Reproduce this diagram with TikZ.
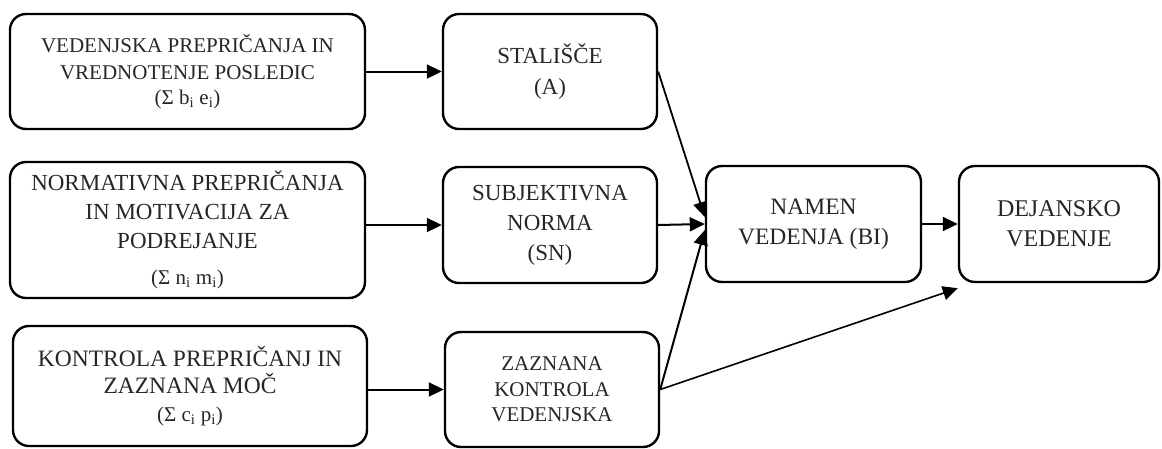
\documentclass[tikz,border=0pt]{standalone}
\usepackage{fontspec}
\setmainfont{Liberation Serif}
\usetikzlibrary{arrows.meta}
\newcommand{\sumline}[2]{{\fontsize{21}{22}\selectfont (Σ #1\textsubscript{i} #2\textsubscript{i})}}
\begin{document}
\begin{tikzpicture}[x=1pt,y=-1pt,
  box/.style={draw=black, line width=2.4pt, rounded corners=16pt, align=center,
    inner sep=0pt, text=black!85},
  arr/.style={-{Triangle[length=15pt,width=14pt]}, line width=2pt},
]
\useasboundingbox (0,0) rectangle (1162,448);

% beliefs column
\node[box, minimum width=355pt, minimum height=115pt, font=\fontsize{21}{27}\selectfont]
  (vb) at (187.5,71.5)
  {VEDENJSKA PREPRIČANJA IN\\VREDNOTENJE POSLEDIC\\[-2pt]\sumline{b}{e}};
\node[box, minimum width=355pt, minimum height=136pt, font=\fontsize{23}{29}\selectfont]
  (nb) at (187.5,230)
  {NORMATIVNA PREPRIČANJA\\IN MOTIVACIJA ZA\\PODREJANJE\\[7pt]\sumline{n}{m}};
\node[box, minimum width=354pt, minimum height=120pt, font=\fontsize{23.5}{27.5}\selectfont]
  (kb) at (190,386)
  {KONTROLA PREPRIČANJ IN\\ZAZNANA MOČ\\[0pt]\sumline{c}{p}};

% attitude, norm and control
\node[box, minimum width=214pt, minimum height=115pt, font=\fontsize{23}{31}\selectfont]
  (st) at (550,71.5) {STALIŠČE\\(A)};
\node[box, minimum width=214pt, minimum height=116pt, font=\fontsize{23}{30}\selectfont]
  (sn) at (550,225) {SUBJEKTIVNA\\NORMA\\(SN)};
\node[box, minimum width=214pt, minimum height=115pt, font=\fontsize{21}{25.5}\selectfont]
  (zk) at (552,389.5) {ZAZNANA\\KONTROLA\\VEDENJSKA};

% intention and behaviour
\node[box, minimum width=215pt, minimum height=116pt, font=\fontsize{23.5}{30}\selectfont]
  (bi) at (813.5,224) {NAMEN\\VEDENJA (BI)};
\node[box, minimum width=200pt, minimum height=116pt, font=\fontsize{24}{30}\selectfont]
  (dv) at (1059,224) {DEJANSKO\\VEDENJE};

% connectors
\draw[arr] (vb) -- (st);
\draw[arr] (nb.east |- sn.west) -- (sn.west);
\draw[arr] (kb.east |- zk.west) -- (zk.west);
\draw[arr, line width=1.8pt] (st.east) -- ([yshift=7pt]bi.west);
\draw[arr] (sn.east) -- (bi.west);
\draw[arr] (zk.east) -- ([yshift=-6pt]bi.west);
\draw[arr, line width=1.6pt] (zk.east) -- ([yshift=-5pt]dv.south west);
\draw[arr] (bi) -- (dv);
\end{tikzpicture}
\end{document}
